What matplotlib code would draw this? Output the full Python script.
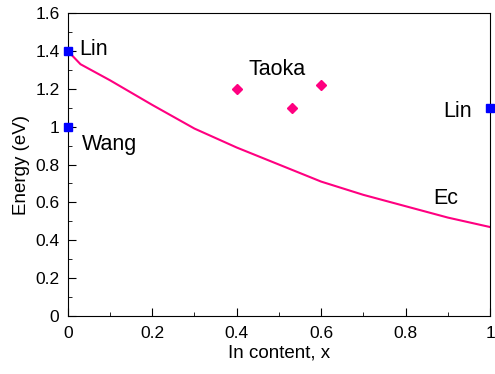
import numpy as np
import matplotlib.pyplot as plt
from matplotlib.ticker import MultipleLocator

plt.rcParams['font.family'] = ['Liberation Sans', 'DejaVu Sans']
plt.rcParams['font.size'] = 12.5

# Ec curve vs In content
ec_x = [0.0, 0.03, 0.1, 0.2, 0.3, 0.4, 0.5, 0.6, 0.7, 0.8, 0.9, 1.0]
ec_y = [1.40, 1.33, 1.245, 1.115, 0.99, 0.89, 0.80, 0.71, 0.64, 0.58, 0.52, 0.47]

# Taoka data points
taoka_x = [0.40, 0.53, 0.60]
taoka_y = [1.20, 1.10, 1.22]

# Lin / Wang data points
blue_x = [0.0, 0.0, 1.0]
blue_y = [1.40, 1.00, 1.10]

fig = plt.figure(figsize=(4.95, 3.74), dpi=100)
ax = fig.add_axes([0.137, 0.155, 0.853, 0.81])

ax.plot(ec_x, ec_y, color='#FF0080', linewidth=1.5)
ax.plot(taoka_x, taoka_y, linestyle='none', marker='D', markersize=5,
        color='#FF0080')
ax.plot(blue_x, blue_y, linestyle='none', marker='s', markersize=6,
        color='#0000FF', clip_on=False, zorder=5)

# annotations
lbl = dict(fontsize=15.5, va='baseline')
ax.text(0.026, 1.378, 'Lin', ha='left', **lbl)
ax.text(0.033, 0.876, 'Wang', ha='left', **lbl)
ax.text(0.427, 1.272, 'Taoka', ha='left', **lbl)
ax.text(0.957, 1.05, 'Lin', ha='right', **lbl)
ax.text(0.865, 0.59, 'Ec', ha='left', **lbl)

ax.set_xlim(0, 1)
ax.set_ylim(0, 1.6)
ax.xaxis.set_major_locator(MultipleLocator(0.2))
ax.xaxis.set_minor_locator(MultipleLocator(0.1))
ax.yaxis.set_major_locator(MultipleLocator(0.2))
ax.yaxis.set_minor_locator(MultipleLocator(0.1))
ax.xaxis.set_major_formatter(plt.FuncFormatter(lambda v, p: f'{v:g}'))
ax.yaxis.set_major_formatter(plt.FuncFormatter(lambda v, p: f'{v:g}'))
ax.tick_params(which='both', direction='in', top=False, right=False)
ax.tick_params(which='major', length=6)
ax.tick_params(which='minor', length=3)
ax.tick_params(axis='y', which='major', pad=6)
ax.tick_params(axis='x', which='major', pad=7)

ax.set_xlabel('In content, x', fontsize=13.5, labelpad=3)
ax.set_ylabel('Energy (eV)', fontsize=13.5, labelpad=4)

plt.savefig('out.png', dpi=100)
